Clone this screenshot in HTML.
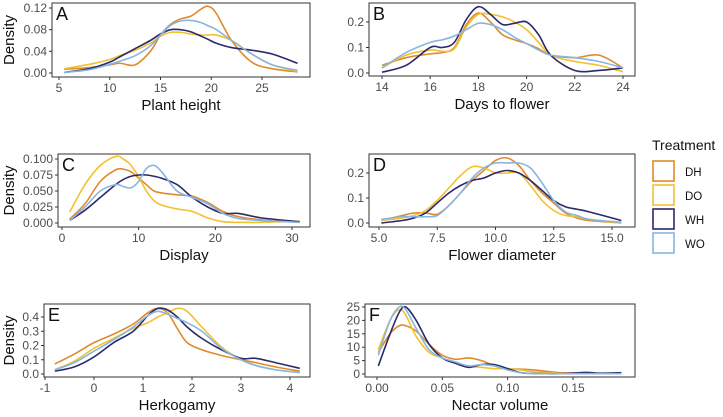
<!DOCTYPE html>
<html><head><meta charset="utf-8"><style>
body{margin:0;background:#fff;}
svg{display:block;font-family:"Liberation Sans",sans-serif;}
</style></head><body>
<svg id="chart" width="723" height="417"></svg>
<script>
const treatments=["DH","DO","WH","WO"];
const colors=["#E08A2C","#F2C12E","#2B2A6B","#86B6E2"];
const xA=[5.5,8,10,11,12.5,14,15,16,17,18,19,19.7,20.5,22,24,26,28.5];
const A_DH=[0.007,0.01,0.015,0.018,0.015,0.04,0.07,0.09,0.1,0.105,0.118,0.123,0.11,0.06,0.02,0.008,0.002];
const A_DO=[0.008,0.016,0.025,0.032,0.042,0.055,0.068,0.075,0.075,0.072,0.07,0.07,0.07,0.06,0.035,0.015,0.003];
const A_WH=[0.001,0.008,0.02,0.03,0.045,0.06,0.072,0.08,0.08,0.076,0.068,0.062,0.055,0.047,0.042,0.035,0.018];
const A_WO=[0.001,0.006,0.016,0.022,0.032,0.05,0.07,0.088,0.096,0.097,0.093,0.087,0.08,0.06,0.035,0.015,0.005];
const xB=[14,15,16,16.5,17,17.5,18,18.5,19,19.5,20,20.5,21,22,23,24];
const B_DH=[0.03,0.06,0.075,0.08,0.1,0.19,0.235,0.2,0.15,0.13,0.115,0.095,0.07,0.06,0.07,0.02];
const B_DO=[0.02,0.07,0.09,0.085,0.095,0.18,0.23,0.23,0.22,0.2,0.17,0.12,0.07,0.045,0.03,0.005];
const B_WH=[0.003,0.03,0.1,0.1,0.12,0.21,0.26,0.23,0.19,0.195,0.2,0.15,0.07,0.01,0.01,0.02];
const B_WO=[0.02,0.08,0.12,0.13,0.145,0.17,0.195,0.19,0.17,0.14,0.115,0.09,0.07,0.06,0.045,0.02];
const xC=[1,3,5,7,8,9,10,11,12,13,15,17,19,21,23,26,31];
const C_DH=[0.006,0.03,0.065,0.083,0.084,0.08,0.07,0.06,0.05,0.047,0.044,0.042,0.032,0.018,0.01,0.005,0.001];
const C_DO=[0.017,0.06,0.09,0.104,0.1,0.09,0.072,0.05,0.035,0.028,0.022,0.018,0.008,0.002,0.001,0.001,0.003];
const C_WH=[0.004,0.02,0.04,0.06,0.068,0.073,0.075,0.075,0.073,0.07,0.06,0.04,0.025,0.015,0.015,0.008,0.002];
const C_WO=[0.004,0.025,0.05,0.06,0.057,0.055,0.065,0.085,0.09,0.08,0.05,0.04,0.03,0.015,0.007,0.004,0.001];
const xD=[5.1,6,6.5,7,7.5,8,8.5,9,9.5,10,10.5,11,11.5,12,12.5,13,13.5,14,15.4];
const D_DH=[0.01,0.03,0.04,0.04,0.035,0.07,0.12,0.17,0.21,0.25,0.26,0.23,0.17,0.12,0.08,0.04,0.02,0.01,0.0];
const D_DO=[0.01,0.02,0.03,0.05,0.09,0.14,0.19,0.225,0.22,0.2,0.2,0.2,0.15,0.09,0.05,0.03,0.025,0.015,0.0];
const D_WH=[0.0,0.01,0.02,0.04,0.08,0.12,0.15,0.17,0.18,0.2,0.21,0.2,0.17,0.13,0.09,0.065,0.055,0.045,0.01];
const D_WO=[0.015,0.025,0.025,0.025,0.03,0.07,0.12,0.18,0.22,0.24,0.24,0.24,0.22,0.16,0.09,0.045,0.03,0.015,0.003];
const xE=[-0.8,-0.4,0,0.4,0.8,1.1,1.3,1.5,1.7,1.9,2.2,2.6,3.0,3.3,3.7,4.2];
const E_DH=[0.07,0.14,0.22,0.28,0.35,0.43,0.46,0.43,0.32,0.22,0.17,0.13,0.1,0.08,0.05,0.02];
const E_DO=[0.03,0.09,0.18,0.25,0.32,0.36,0.4,0.43,0.46,0.44,0.33,0.19,0.1,0.06,0.03,0.01];
const E_WH=[0.02,0.05,0.12,0.22,0.3,0.41,0.46,0.45,0.4,0.33,0.25,0.17,0.11,0.11,0.08,0.04];
const E_WO=[0.03,0.08,0.16,0.24,0.33,0.41,0.44,0.42,0.39,0.36,0.3,0.18,0.1,0.06,0.03,0.01];
const xF=[0.001,0.01,0.017,0.022,0.03,0.04,0.05,0.06,0.07,0.08,0.09,0.1,0.11,0.12,0.14,0.16,0.17,0.187];
const F_DH=[8,15,18,18,16,11,7,5.5,6,5,3,2,1.8,1.5,0.5,0.3,0.2,0.1];
const F_DO=[9,20,24,22,14,8,6,4,3,2.5,2,2,1.5,0.8,0.2,0.1,0.1,0.1];
const F_WH=[3,15,23,25,20,11,6,4,2.5,3.5,3.5,2,0.5,0.2,0.1,0.6,0.3,0.5];
const F_WO=[7,20,25,24,17,9,6,4.5,3,3.5,3,1.5,0.5,0.2,0.1,0.1,0.1,0.1];
const ticksA_x=[5,10,15,20,25], ticksA_y=["0.00","0.04","0.08","0.12"];
const ticksB_x=[14,16,18,20,22,24], ticksB_y=["0.0","0.1","0.2"];
const ticksC_x=[0,10,20,30], ticksC_y=["0.000","0.025","0.050","0.075","0.100"];
const ticksD_x=["5.0","7.5","10.0","12.5","15.0"], ticksD_y=["0.0","0.1","0.2"];
const ticksE_x=[-1,0,1,2,3,4], ticksE_y=["0.0","0.1","0.2","0.3","0.4"];
const ticksF_x=["0.00","0.05","0.10","0.15"], ticksF_y=["0","5","10","15","20","25"];

const NS="http://www.w3.org/2000/svg";
const svg=document.getElementById('chart');
function mk(tag,attrs,parent,text){const e=document.createElementNS(NS,tag);for(const k in attrs)e.setAttribute(k,attrs[k]);if(text!==undefined)e.textContent=text;(parent||svg).appendChild(e);return e;}
function pathCR(pts){let d="M"+pts[0][0].toFixed(2)+","+pts[0][1].toFixed(2);
 for(let i=0;i<pts.length-1;i++){const p0=pts[Math.max(0,i-1)],p1=pts[i],p2=pts[i+1],p3=pts[Math.min(pts.length-1,i+2)];
  const c1=[p1[0]+(p2[0]-p0[0])/6,p1[1]+(p2[1]-p0[1])/6],c2=[p2[0]-(p3[0]-p1[0])/6,p2[1]-(p3[1]-p1[1])/6];
  d+=" C"+c1.map(v=>v.toFixed(2))+" "+c2.map(v=>v.toFixed(2))+" "+p2[0].toFixed(2)+","+p2[1].toFixed(2);}
 return d;}
const panels=[
 {id:"a",letter:"A",box:[52,3,310,77],xm:[5,59,25,262],ym:[0,73,0.12,8],xt:ticksA_x,yt:ticksA_y,xs:xA,ser:[A_DH,A_DO,A_WH,A_WO],title:"Plant height",dens:true},
 {id:"b",letter:"B",box:[369,3,635,76],xm:[14,382,24,623],ym:[0,73,0.2,22],xt:ticksB_x,yt:ticksB_y,xs:xB,ser:[B_DH,B_DO,B_WH,B_WO],title:"Days to flower"},
 {id:"c",letter:"C",box:[58,154,310,227],xm:[0,62,30,292],ym:[0,223,0.1,159],xt:ticksC_x,yt:ticksC_y,xs:xC,ser:[C_DH,C_DO,C_WH,C_WO],title:"Display",dens:true},
 {id:"d",letter:"D",box:[369,154,635,227],xm:[5,379,15,612],ym:[0,223,0.2,173],xt:ticksD_x,yt:ticksD_y,xs:xD,ser:[D_DH,D_DO,D_WH,D_WO],title:"Flower diameter"},
 {id:"e",letter:"E",box:[44,304,310,377],xm:[-1,45,4,290],ym:[0,374,0.4,317],xt:ticksE_x,yt:ticksE_y,xs:xE,ser:[E_DH,E_DO,E_WH,E_WO],title:"Herkogamy",dens:true},
 {id:"f",letter:"F",box:[365,304,635,377],xm:[0,377,0.15,573],ym:[0,374,25,307],xt:ticksF_x,yt:ticksF_y,xs:xF,ser:[F_DH,F_DO,F_WH,F_WO],title:"Nectar volume"}
];
panels.forEach(p=>{
 const g=mk('g',{});
 
 
 const [bx0,by0,bx1,by1]=p.box;
 const sx=v=>p.xm[1]+(v-p.xm[0])*(p.xm[3]-p.xm[1])/(p.xm[2]-p.xm[0]);
 const sy=v=>p.ym[1]+(v-p.ym[0])*(p.ym[3]-p.ym[1])/(p.ym[2]-p.ym[0]);
 p.ser.forEach((s,i)=>{
  const pts=p.xs.map((x,j)=>[sx(x),sy(s[j])]);
  const pa=mk('path',{d:pathCR(pts),fill:'none',stroke:colors[i],'stroke-width':1.6},g);
  
  
 });
 const r=mk('rect',{x:bx0,y:by0,width:bx1-bx0,height:by1-by0,fill:'none',stroke:'#333','stroke-width':1},g);
 
 
 const L=mk('text',{x:bx0+4,y:by0+17,'font-size':18,fill:'#111'},g,p.letter);
 
 
 p.xt.forEach(t=>{const x=sx(parseFloat(t));
  mk('line',{x1:x,x2:x,y1:by1,y2:by1+3,stroke:'#333'},g);
  const tx=mk('text',{x:x,y:by1+15,'font-size':12,fill:'#4d4d4d','text-anchor':'middle'},g,String(t));
  
  });
 p.yt.forEach(t=>{const y=sy(parseFloat(t));
  mk('line',{x1:bx0-3,x2:bx0,y1:y,y2:y,stroke:'#333'},g);
  const tx=mk('text',{x:bx0-5,y:y+4,'font-size':12,fill:'#4d4d4d','text-anchor':'end'},g,t);
  
  });
 const xt=mk('text',{x:(bx0+bx1)/2,y:by1+33,'font-size':15,fill:'#111','text-anchor':'middle'},g,p.title);
 
 
 if(p.dens){const cy=(by0+by1)/2;
  const yt=mk('text',{x:14,y:cy,'font-size':15,fill:'#111','text-anchor':'middle',transform:'rotate(-90 14 '+cy+')'},g,'Density');
  
  }
});
const lg=mk('g',{});


const lt=mk('text',{x:652,y:150,'font-size':14,fill:'#111'},lg,'Treatment');


treatments.forEach((t,i)=>{const y=161+i*24;
 const e=mk('g',{},lg);
 
 
 mk('rect',{x:653,y:y,width:21,height:20,fill:'#fff',stroke:colors[i],'stroke-width':1.6},e);
 mk('text',{x:685,y:y+15,'font-size':11.5,fill:'#111'},e,t);
});
</script>
</body></html>
